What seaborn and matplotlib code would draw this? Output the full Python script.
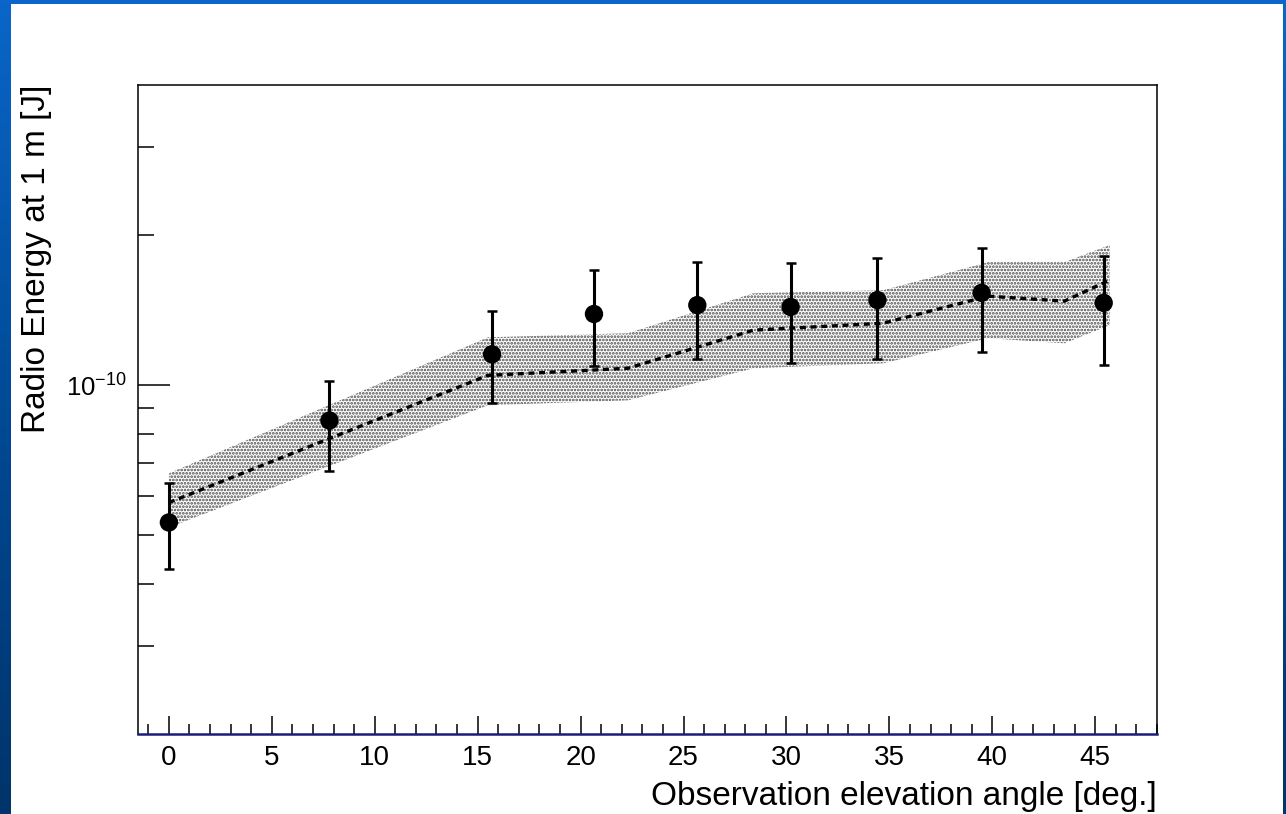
import numpy as np
import pandas as pd
import matplotlib
matplotlib.use("Agg")
import matplotlib.pyplot as plt
import seaborn as sns
from matplotlib.ticker import FixedLocator, MultipleLocator, NullFormatter, LogFormatterMathtext
from matplotlib.colors import LinearSegmentedColormap
from matplotlib.patches import Rectangle

# ---------------- data ----------------
angle = [0.0, 7.8, 15.7, 20.65, 25.67, 30.2, 34.42, 39.48, 45.41]
energy = [5.31e-11, 8.50e-11, 1.154e-10, 1.39e-10, 1.448e-10, 1.436e-10, 1.482e-10, 1.532e-10, 1.463e-10]
energy_hi = [6.38e-11, 1.02e-10, 1.41e-10, 1.70e-10, 1.766e-10, 1.758e-10, 1.80e-10, 1.882e-10, 1.815e-10]
energy_lo = [4.29e-11, 6.74e-11, 9.20e-11, 1.092e-10, 1.128e-10, 1.107e-10, 1.128e-10, 1.166e-10, 1.097e-10]

model_angle = [0.0, 15.5, 22.3, 28.4, 34.7, 39.8, 43.5, 45.7]
model_center = [5.82e-11, 1.047e-10, 1.082e-10, 1.290e-10, 1.332e-10, 1.509e-10, 1.475e-10, 1.625e-10]
model_upper = [6.66e-11, 1.248e-10, 1.272e-10, 1.530e-10, 1.551e-10, 1.766e-10, 1.766e-10, 1.910e-10]
model_lower = [5.19e-11, 9.12e-11, 9.33e-11, 1.082e-10, 1.107e-10, 1.243e-10, 1.214e-10, 1.320e-10]

y_major_ticks = [1e-10]
y_minor_ticks = [3e-11, 4e-11, 5e-11, 6e-11, 7e-11, 8e-11, 9e-11, 2e-10, 3e-10]

x_label = "Observation elevation angle [deg.]"
y_label = "Radio Energy at 1 m [J]"

# ---------------- style ----------------
sns.set_theme(style="ticks")
plt.rcParams["font.family"] = ["Liberation Sans", "DejaVu Sans"]
plt.rcParams["mathtext.fontset"] = "custom"
plt.rcParams["mathtext.rm"] = "Liberation Sans"
plt.rcParams["mathtext.default"] = "regular"
plt.rcParams["hatch.linewidth"] = 1.3
for k in ["text.color", "axes.labelcolor", "xtick.color", "ytick.color",
          "xtick.labelcolor", "ytick.labelcolor"]:
    plt.rcParams[k] = "black"

W, H = 1286, 814
fig = plt.figure(figsize=(W / 100, H / 100), dpi=100)

# slide background: blue gradient border + white page
cmap_bg = LinearSegmentedColormap.from_list("bg", ["#0a66c8", "#004a96", "#00346a"])
grad = np.repeat(np.linspace(0, 1, H).reshape(-1, 1), W, axis=1)
fig.figimage(grad, xo=0, yo=0, cmap=cmap_bg, origin="upper", zorder=-10)
fig.patches.append(Rectangle((11 / W, 0), (W - 3 - 11) / W, (H - 4) / H,
                             facecolor="white", edgecolor="none",
                             transform=fig.transFigure, figure=fig, zorder=-5))

ax = fig.add_axes([138 / W, (H - 734) / H, (1157 - 138) / W, (734 - 85) / H])
ax.set_facecolor("white")

df_model = pd.DataFrame({"angle": model_angle, "center": model_center})
df_pts = pd.DataFrame({"angle": angle, "energy": energy})

# uncertainty band (stippled)
ax.fill_between(model_angle, model_lower, model_upper, facecolor="white",
                edgecolor="#4a4a4a", hatch=".....", linewidth=0, zorder=1)

# model (dashed)
sns.lineplot(data=df_model, x="angle", y="center", ax=ax, color="black",
             linewidth=2.4, zorder=2, sort=True, estimator=None)
ax.lines[-1].set_dashes((1.8, 1.4))

# data points with error bars
yerr = [np.array(energy) - np.array(energy_lo), np.array(energy_hi) - np.array(energy)]
ax.errorbar(angle, energy, yerr=yerr, fmt="none", ecolor="black",
            elinewidth=2.2, capsize=3.5, capthick=1.8, zorder=3)
sns.scatterplot(data=df_pts, x="angle", y="energy", ax=ax, color="black",
                s=175, edgecolor="none", zorder=4, legend=False)

# axes
ax.set_yscale("log")
ax.set_xlim(-1.5, 48)
ax.set_ylim(2.0e-11, 4.0e-10)

ax.xaxis.set_major_locator(MultipleLocator(5))
ax.xaxis.set_minor_locator(MultipleLocator(1))
ax.yaxis.set_major_locator(FixedLocator(y_major_ticks))
ax.yaxis.set_minor_locator(FixedLocator(y_minor_ticks))
ax.yaxis.set_major_formatter(LogFormatterMathtext())
ax.yaxis.set_minor_formatter(NullFormatter())

ax.tick_params(axis="x", which="major", direction="in", length=13, width=1.1,
               labelsize=20, pad=8, top=False)
ax.tick_params(axis="x", which="minor", direction="in", length=7, width=1.1, top=False)
ax.tick_params(axis="y", which="major", direction="in", length=23, width=1.1,
               labelsize=18.5, pad=8, right=False)
ax.tick_params(axis="y", which="minor", direction="in", length=11.5, width=1.1, right=False)

for s in ["top", "right", "left"]:
    ax.spines[s].set_color("black")
    ax.spines[s].set_linewidth(1.1)
ax.spines["bottom"].set_color("#1c1c7a")
ax.spines["bottom"].set_linewidth(1.8)

ax.set_xlabel(x_label, fontsize=24, loc="right")
ax.set_ylabel(y_label, fontsize=24, loc="top")
ax.xaxis.set_label_coords(1.0, -(781 - 734) / (734 - 85))
ax.yaxis.set_label_coords(-(138 - 52) / (1157 - 138), 1.0)

fig.savefig("out.png", dpi=100)
